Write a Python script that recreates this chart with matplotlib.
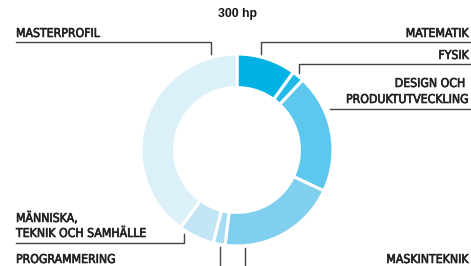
import matplotlib
matplotlib.use("Agg")
import matplotlib.pyplot as plt
import matplotlib.patheffects as pe

categories = ["MATEMATIK", "FYSIK", "DESIGN OCH\nPRODUKTUTVECKLING", "MASKINTEKNIK",
              "PROGRAMMERING", "MÄNNISKA,\nTEKNIK OCH SAMHÄLLE", "MASTERPROFIL"]
values = [30, 6, 60, 60, 6, 18, 120]
colors = ["#00b2e3", "#22bbe8", "#5ec7ee", "#80cfef", "#a6dcf4", "#c3e6f7", "#dcf0fa"]
title = "300 hp"

W, H = 471, 266
fig = plt.figure(figsize=(W / 100, H / 100), dpi=100)

cx, cy, R = 237, 150, 96
pax = fig.add_axes([(cx - R) / W, (H - cy - R) / H, 2 * R / W, 2 * R / H])
pax.pie(values, colors=colors, startangle=90, counterclock=False, radius=1,
        wedgeprops=dict(width=0.35, edgecolor="white", linewidth=2.2))
pax.set_xlim(-1, 1)
pax.set_ylim(-1, 1)
pax.set_aspect("equal")
pax.axis("off")

ax = fig.add_axes([0, 0, 1, 1], zorder=5)
ax.set_xlim(0, W)
ax.set_ylim(H, 0)
ax.axis("off")
ax.patch.set_alpha(0)

tc = "#222222"
fp = dict(family="DejaVu Sans", stretch="condensed", fontsize=8.8, color=tc,
          fontweight="medium",
          path_effects=[pe.withStroke(linewidth=0.45, foreground=tc)])
lc = "#444444"
lw = 1.0

ax.text(cx, 17, title, ha="center", va="baseline", fontsize=8.8, fontweight="bold",
        family="Liberation Sans", color="#111111")

# MASTERPROFIL
ax.text(16, 37, categories[6], ha="left", va="baseline", **fp)
ax.plot([16, 211, 211], [42, 42, 54], color=lc, lw=lw)
# MATEMATIK
ax.text(469, 37, categories[0], ha="right", va="baseline", **fp)
ax.plot([261, 261, 471], [54, 42, 42], color=lc, lw=lw)
# FYSIK
ax.text(469, 59, categories[1], ha="right", va="baseline", **fp)
ax.plot([299, 299, 471], [73, 64, 64], color=lc, lw=lw)
# DESIGN
ax.text(469, 87, "DESIGN OCH ", ha="right", va="baseline", **fp)
ax.text(469, 103, "PRODUKTUTVECKLING", ha="right", va="baseline", **fp)
ax.plot([330, 471], [109, 109], color=lc, lw=lw)
# MANNISKA
ax.text(16, 222, "MÄNNISKA,", ha="left", va="baseline", **fp)
ax.text(16, 237, "TEKNIK OCH SAMHÄLLE", ha="left", va="baseline", **fp)
ax.plot([16, 184, 184], [243, 243, 234], color=lc, lw=lw)
# PROGRAMMERING
ax.text(16, 263, categories[4], ha="left", va="baseline", **fp)
ax.plot([220, 220], [247, 266], color=lc, lw=lw)
# MASKINTEKNIK
ax.text(469, 263, categories[3], ha="right", va="baseline", **fp)
ax.plot([245, 245], [248, 266], color=lc, lw=lw)

fig.savefig("out.png", dpi=100)
